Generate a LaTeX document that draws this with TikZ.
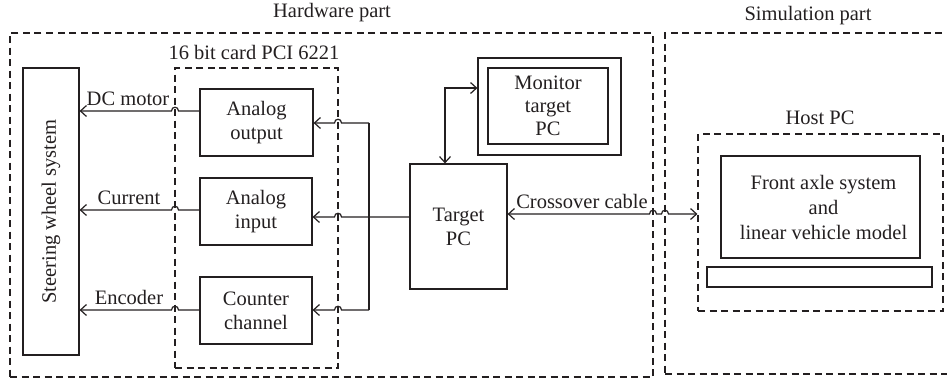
\documentclass[tikz,border=0pt]{standalone}
\usepackage{fontspec}
\setmainfont{Liberation Serif}
\usepackage{graphicx}
\usetikzlibrary{arrows.meta}
\definecolor{ink}{HTML}{231F20}
\begin{document}
\begin{tikzpicture}[x=1pt,y=-1pt,
  every node/.style={font=\fontsize{20.5}{24}\selectfont, text=ink},
  box/.style={draw=ink, line width=1.2pt, inner sep=0pt, align=center},
  dbox/.style={draw=ink, line width=1.2pt, dash pattern=on 7pt off 4.5pt, inner sep=0pt},
  lbl/.style={inner sep=0pt, align=center},
  conn/.style={draw=ink, line width=1.2pt},
  arr/.style={conn, -{Straight Barb[length=6pt,width=11pt,line width=1.2pt]}},
  arrb/.style={conn, {Straight Barb[length=6pt,width=11pt,line width=1.2pt]}-{Straight Barb[length=6pt,width=11pt,line width=1.2pt]}}]
\useasboundingbox (0,0) rectangle (947,381);
\clip (0,0) rectangle (947,381);
% group frames
\node[dbox, minimum width=643pt, minimum height=344pt] (hw) at (331.5,205) {};
\node[dbox, minimum width=290pt, minimum height=341pt] (sim) at (810,203.5) {};
\node[lbl] (hwl) at (332,13) {Hardware part};
\node[lbl] (siml) at (808,16) {Simulation part};
% steering
\node[box, minimum width=56pt, minimum height=287pt] (steer) at (51,211.5) {\rotatebox{90}{Steering wheel system}};
% PCI card
\node[dbox, minimum width=163pt, minimum height=300pt] (pci) at (256.5,218) {};
\node[lbl] (pcil) at (254,52) {16 bit card PCI 6221};
\node[box, minimum width=113pt, minimum height=67pt] (ao) at (256.5,122.5) {Analog\\output};
\node[box, minimum width=112pt, minimum height=67pt] (ai) at (256,211.5) {Analog\\input};
\node[box, minimum width=112pt, minimum height=67pt] (cc) at (256,310.5) {Counter\\channel};
% target and monitor
\node[box, minimum width=97pt, minimum height=125pt] (tpc) at (458.5,226.5) {Target\\PC};
\node[box, minimum width=143pt, minimum height=97pt] (monout) at (549.5,106.5) {};
\node[box, minimum width=120pt, minimum height=76pt, font=\fontsize{20.5}{23}\selectfont] (monin) at (548,106) {Monitor\\target\\PC};
% host
\node[dbox, minimum width=245pt, minimum height=177pt] (host) at (820.5,222.5) {};
\node[lbl] (hostl) at (820,118) {Host PC};
\node[box, minimum width=199pt, minimum height=102pt, font=\fontsize{20.5}{25}\selectfont] (model) at (820.5,207) {\hspace*{6pt}Front axle system\\\hspace*{6pt}and\\\hspace*{6pt}linear vehicle model};
\node[box, minimum width=225pt, minimum height=20pt] (bar) at (819.5,277) {};
% connector coordinates
\coordinate (y1) at (0,111);
\coordinate (y2) at (0,210);
\coordinate (y3) at (0,310);
\coordinate (yi) at (0,217);
\coordinate (bt) at (369,123);
\coordinate (bb) at (369,310);
\coordinate (mx) at (445,88);
\coordinate (yx) at (0,214);
% card outputs to steering
\draw[arr] (ao.west |- y1) -- (178.5,111) .. controls (178.5,106) and (171.5,106) .. (171.5,111) -- (steer.east |- y1);
\draw[arr] (ai.west |- y2) -- (178.5,210) .. controls (178.5,205) and (171.5,205) .. (171.5,210) -- (steer.east |- y2);
\draw[arr] (cc.west |- y3) -- (178.5,310) .. controls (178.5,305) and (171.5,305) .. (171.5,310) -- (steer.east |- y3);
\node[lbl, anchor=south] (dcl) at (128,106) {DC motor};
\node[lbl, anchor=south] (cul) at (129,205) {Current};
\node[lbl, anchor=south] (enl) at (129,305) {Encoder};
% target to card
\draw[conn] (bt) -- (bb);
\draw[arr] (bt) -- (341.5,123) .. controls (341.5,118) and (334.5,118) .. (334.5,123) -- (ao.east |- bt);
\draw[arr] (tpc.west |- yi) -- (341.5,217) .. controls (341.5,212) and (334.5,212) .. (334.5,217) -- (ai.east |- yi);
\draw[arr] (bb) -- (341.5,310) .. controls (341.5,305) and (334.5,305) .. (334.5,310) -- (cc.east |- bb);
% target to monitor
\draw[arrb] (tpc.north -| mx) |- (monout.west |- mx);
% crossover cable
\draw[arrb] (tpc.east |- yx) -- (649.5,214) .. controls (649.5,209) and (656.5,209) .. (656.5,214) -- (661.5,214) .. controls (661.5,209) and (668.5,209) .. (668.5,214) -- (host.west |- yx);
\node[lbl, anchor=south] (xl) at (582,209) {Crossover cable};
\end{tikzpicture}
\end{document}
